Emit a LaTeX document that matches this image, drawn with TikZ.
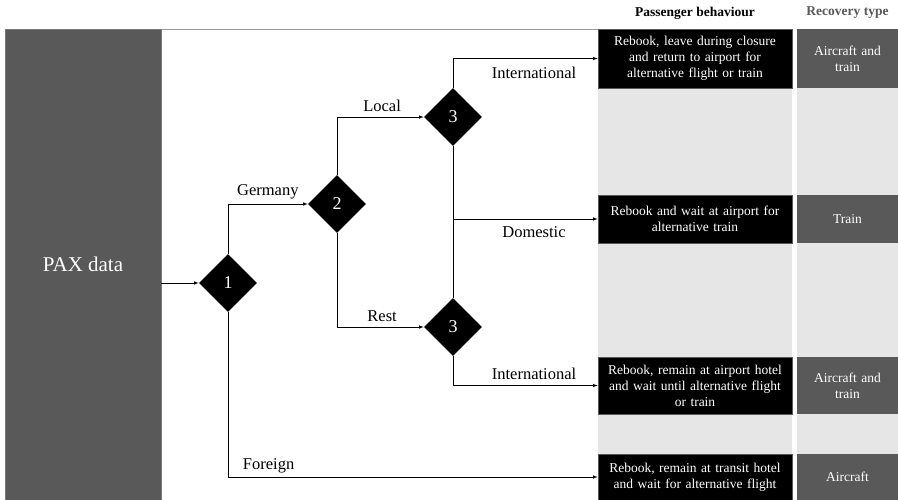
\documentclass[tikz,border=0pt]{standalone}
\usepackage{fontspec}
\setmainfont{Liberation Serif}
\usetikzlibrary{positioning}
\usetikzlibrary{shapes.geometric}
\usetikzlibrary{arrows}

\definecolor{darkgrey}{HTML}{595959}
\definecolor{lightgrey}{HTML}{E6E6E6}

\begin{document}
\begin{tikzpicture}[x=1pt,y=-1pt,line width=0.6pt,
  decision/.style={diamond,fill=black,text=white,inner sep=0pt,minimum width=58pt,minimum height=58pt,font=\fontsize{18}{18}\selectfont},
  behaviour/.style={rectangle,fill=black,draw=darkgrey,text=white,minimum width=194pt,text width=186pt,align=center,inner sep=0pt,font=\fontsize{13.5}{16}\selectfont},
  recovery/.style={rectangle,fill=darkgrey,text=white,minimum width=101pt,text width=95pt,align=center,inner sep=0pt,font=\fontsize{13.5}{16}\selectfont},
  branch/.style={font=\fontsize{16.5}{17}\selectfont},
  flow/.style={-latex}]
  % Constants
  \pgfmathsetmacro\ytop{29}
  \pgfmathsetmacro\ybot{500}
  \pgfmathsetmacro\xb{695}
  \pgfmathsetmacro\xr{847.5}
  % Boundary
  \path[use as bounding box] (0,0) rectangle (898,500);
  % Frame and columns
  \draw[darkgrey!60,fill=white] (5,\ytop) rectangle (598,\ybot);
  \fill[lightgrey] (598,\ytop) rectangle (792,\ybot);
  \fill[lightgrey] (797,\ytop) rectangle (898,\ybot);
  \node[font=\bfseries\fontsize{13.5}{14}\selectfont] (hb) at (\xb,13) {Passenger behaviour};
  \node[font=\bfseries\fontsize{13.5}{14}\selectfont,text=darkgrey] (hr) at (\xr,13) {Recovery type};
  % Input
  \node[rectangle,fill=darkgrey,draw=darkgrey!80,text=white,minimum width=156pt,minimum height=471pt,font=\fontsize{21}{21}\selectfont] (pax) at (83,264.5) {PAX data};
  % Decisions
  \node[decision] (d1) at (228,283) {1};
  \node[decision] (d2) at (337,204) {2};
  \node[decision] (d3a) at (453,117) {3};
  \node[decision] (d3b) at (453,327) {3};
  % Passenger behaviour
  \node[behaviour,minimum height=59pt] (b1) at (\xb,58.5) {Rebook, leave during closure\\and return to airport for\\alternative flight or train};
  \node[behaviour,minimum height=48pt] (b2) at (\xb,219) {Rebook and wait at airport for\\alternative train};
  \node[behaviour,minimum height=57pt] (b3) at (\xb,385.5) {Rebook, remain at airport hotel\\and wait until alternative flight\\or train};
  \node[behaviour,minimum height=46pt] (b4) at (\xb,477) {Rebook, remain at transit hotel\\and wait for alternative flight};
  % Recovery type
  \node[recovery,minimum height=59pt] (r1) at (\xr,58.5) {Aircraft and\\train};
  \node[recovery,minimum height=48pt] (r2) at (\xr,219) {Train};
  \node[recovery,minimum height=57pt] (r3) at (\xr,385.5) {Aircraft and\\train};
  \node[recovery,minimum height=46pt] (r4) at (\xr,477) {Aircraft};
  % Connectors
  \draw[flow] (pax.east |- d1) -- (d1.west);
  \draw[flow] (d1.north) |- (d2.west) node[branch,pos=0.75,above=1pt] {Germany};
  \draw[flow] (d2.north) |- (d3a.west) node[branch,pos=0.76,above=2pt] {Local};
  \draw[flow] (d2.south) |- (d3b.west) node[branch,pos=0.76,above=2pt] {Rest};
  \draw[flow] (d3a.north) |- (b1.west) node[branch,pos=0.78,below=5pt] {International};
  \draw[flow] (d3a.south) |- (b2.west) node[branch,pos=0.78,below=4pt] {Domestic};
  \draw (d3a.south) -- (d3b.north);
  \draw[flow] (d3b.south) |- (b3.west) node[branch,pos=0.78,above=2pt] {International};
  \draw[flow] (d1.south) |- (b4.west) node[branch,pos=0.555,above] {Foreign};
\end{tikzpicture}
\end{document}
